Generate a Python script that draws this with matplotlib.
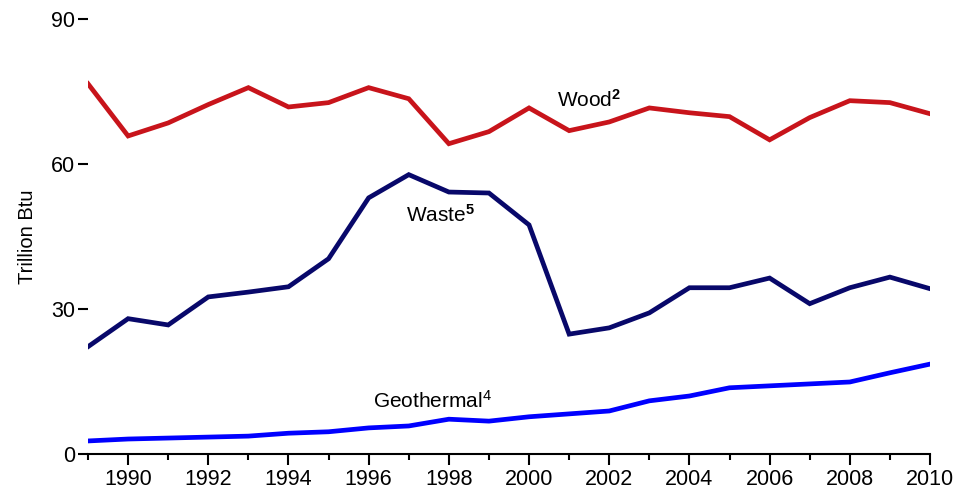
import matplotlib.pyplot as plt
from matplotlib.ticker import MultipleLocator

years = list(range(1989, 2011))
wood = [76.6, 65.8, 68.5, 72.3, 75.8, 71.8, 72.7, 75.8, 73.5, 64.2, 66.7,
        71.6, 66.9, 68.7, 71.6, 70.6, 69.8, 65.0, 69.6, 73.1, 72.7, 70.4]
waste = [22.2, 28.0, 26.7, 32.5, 33.5, 34.6, 40.4, 53.0, 57.8, 54.2, 54.0,
         47.4, 24.8, 26.1, 29.2, 34.4, 34.4, 36.4, 31.1, 34.4, 36.6, 34.2]
geothermal = [2.7, 3.1, 3.3, 3.5, 3.7, 4.3, 4.6, 5.4, 5.8, 7.2, 6.8,
              7.7, 8.3, 8.9, 11.0, 12.0, 13.7, 14.1, 14.5, 14.9, 16.8, 18.6]
yticks = [0, 30, 60, 90]

plt.rcParams['font.family'] = ['Liberation Sans', 'DejaVu Sans']
plt.rcParams['mathtext.fontset'] = 'custom'
plt.rcParams['mathtext.rm'] = 'Liberation Sans'
plt.rcParams['mathtext.it'] = 'Liberation Sans'
plt.rcParams['mathtext.bf'] = 'Liberation Sans:bold'

fig = plt.figure(figsize=(9.58, 4.91), dpi=100)
ax = fig.add_axes([88 / 958, 37 / 491, 842 / 958, 435 / 491])

ax.plot(years, wood, color='#c8141b', lw=3.4, solid_joinstyle='miter')
ax.plot(years, waste, color='#08086a', lw=3.4, solid_joinstyle='miter')
ax.plot(years, geothermal, color='#0000ff', lw=3.4, solid_joinstyle='miter')

# Series labels
ax.text(2001.5, 73.3, r'Wood$^\mathbf{2}$', fontsize=15, ha='center', va='center')
ax.text(1997.8, 49.5, r'Waste$^\mathbf{5}$', fontsize=15, ha='center', va='center')
ax.text(1997.6, 11.0, r'Geothermal$^\mathrm{4}$', fontsize=15, ha='center', va='center')

ax.set_xlim(1989, 2010)
ax.set_ylim(0, 90)
ax.set_yticks(yticks)
ax.xaxis.set_minor_locator(MultipleLocator(1))
ax.set_xticks(range(1990, 2011, 2))

for side in ['top', 'right', 'left']:
    ax.spines[side].set_visible(False)
ax.spines['bottom'].set_linewidth(1.5)
ax.tick_params(axis='x', which='major', length=8, width=1.5, labelsize=15.5, pad=3)
ax.tick_params(axis='x', which='minor', length=4.5, width=1.5)
ax.tick_params(axis='y', length=7.5, width=1.5, labelsize=15.5, pad=2)
ax.set_ylabel('Trillion Btu', fontsize=14.5, labelpad=10)

fig.savefig('out.png', dpi=100)
